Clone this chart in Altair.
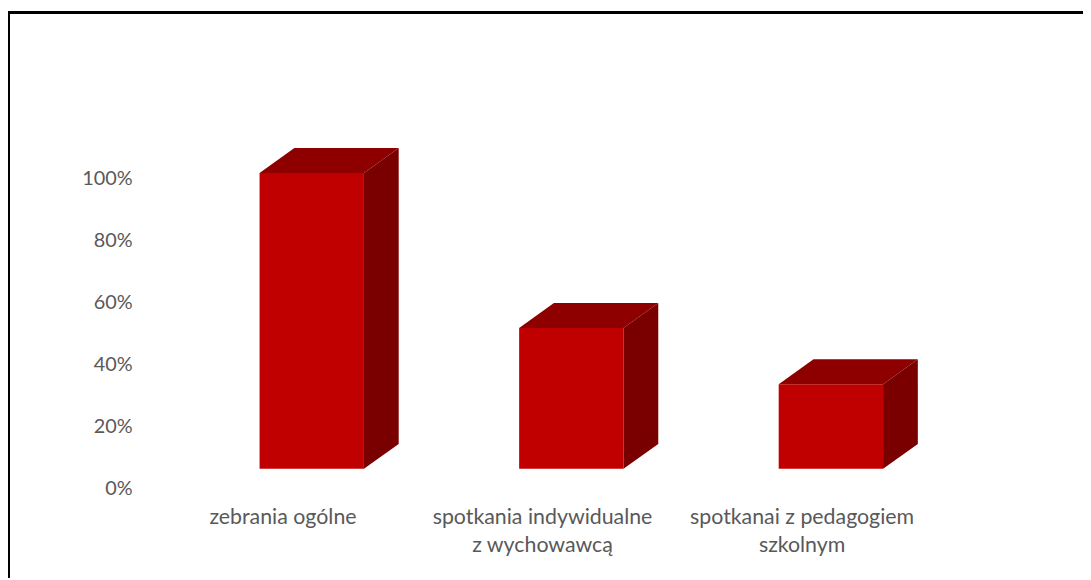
import altair as alt
import pandas as pd
import numpy as np

# ---- data ----
categories = ["zebrania ogólne", "spotkania indywidualne\nz wychowawcą", "spotkanai z pedagogiem\nszkolnym"]
values = [1.0, 0.476, 0.286]
tick_values = [0.0, 0.2, 0.4, 0.6, 0.8, 1.0]

# ---- geometry (in data units) ----
W, H = 1083, 572
HW = 0.201      # half width of the front face (category units)
DX = 0.134      # depth offset, horizontal (category units)
DY = 0.084      # depth offset, vertical (value units)
XLO, XHI = -1.1702, 2.9713
YLO, YHI = -0.369, 1.5505          # scale for the 3D bars
ALO, AHI = -0.2885, 1.5449         # scale for the back-wall axis

idx = np.arange(len(categories))
front = pd.DataFrame({"cat": categories, "x0": idx - HW, "x1": idx + HW,
                      "y0": 0.0, "y1": values})

top_rows, side_rows = [], []
for i, (c, v) in enumerate(zip(categories, values)):
    a, b = i - HW, i + HW
    top_rows += [
        {"cat": c, "x": a, "lo": v, "hi": v},
        {"cat": c, "x": a + DX, "lo": v, "hi": v + DY},
        {"cat": c, "x": b, "lo": v, "hi": v + DY},
        {"cat": c, "x": b + DX, "lo": v + DY, "hi": v + DY},
    ]
    side_rows += [
        {"cat": c, "x": b, "lo": 0.0, "hi": v},
        {"cat": c, "x": b + DX, "lo": DY, "hi": v + DY},
    ]
top = pd.DataFrame(top_rows)
side = pd.DataFrame(side_rows)
labels = pd.DataFrame({"cat": categories, "x": idx})
ticks_df = pd.DataFrame({"t": tick_values})

FONT = "Lato"
TXT = "#595959"

xs = alt.Scale(domain=[XLO, XHI], nice=False, zero=False)
ys = alt.Scale(domain=[YLO, YHI], nice=False, zero=False)

front_l = alt.Chart(front).mark_rect(color="#C00000").encode(
    x=alt.X("x0:Q", scale=xs, axis=None), x2="x1:Q",
    y=alt.Y("y0:Q", scale=ys, axis=None), y2="y1:Q")

top_l = alt.Chart(top).mark_area(color="#8E0000", orient="vertical").encode(
    x=alt.X("x:Q", scale=xs, axis=None),
    y=alt.Y("lo:Q", scale=ys, axis=None), y2="hi:Q",
    detail="cat:N")

side_l = alt.Chart(side).mark_area(color="#7A0000", orient="vertical").encode(
    x=alt.X("x:Q", scale=xs, axis=None),
    y=alt.Y("lo:Q", scale=ys, axis=None), y2="hi:Q",
    detail="cat:N")

bars = alt.layer(front_l, top_l, side_l)

axis_l = alt.Chart(ticks_df).mark_point(opacity=0).encode(
    x=alt.value(200),
    y=alt.Y("t:Q", scale=alt.Scale(domain=[ALO, AHI], nice=False, zero=False),
            axis=alt.Axis(values=tick_values, format=".0%", title=None, grid=False,
                          domain=False, ticks=False, labelPadding=0, offset=-125,
                          labelFont=FONT, labelFontSize=20, labelColor=TXT)))

text_l = alt.Chart(labels).mark_text(
    font=FONT, fontSize=21.5, color=TXT, lineBreak="\n", lineHeight=28,
    baseline="middle", align="center", dx=-29).encode(
    x=alt.X("x:Q", scale=xs, axis=None), y=alt.value(512), text="cat:N")

frame_df = pd.DataFrame({"k": [0]})
left_rule = alt.Chart(frame_df).mark_rule(color="black", strokeWidth=3).encode(
    x=alt.value(0.5), y=alt.value(1), y2=alt.value(H))
top_rule = alt.Chart(frame_df).mark_rule(color="black", strokeWidth=3).encode(
    x=alt.value(-1), x2=alt.value(W), y=alt.value(2.5))

chart = alt.layer(bars, axis_l, text_l, left_rule, top_rule).resolve_scale(
    y="independent").properties(
    width=W, height=H, padding=0,
    autosize=alt.AutoSizeParams(type="none")).configure_view(stroke=None)

chart.save("out.html", embed_options={"renderer": "svg", "actions": False})
